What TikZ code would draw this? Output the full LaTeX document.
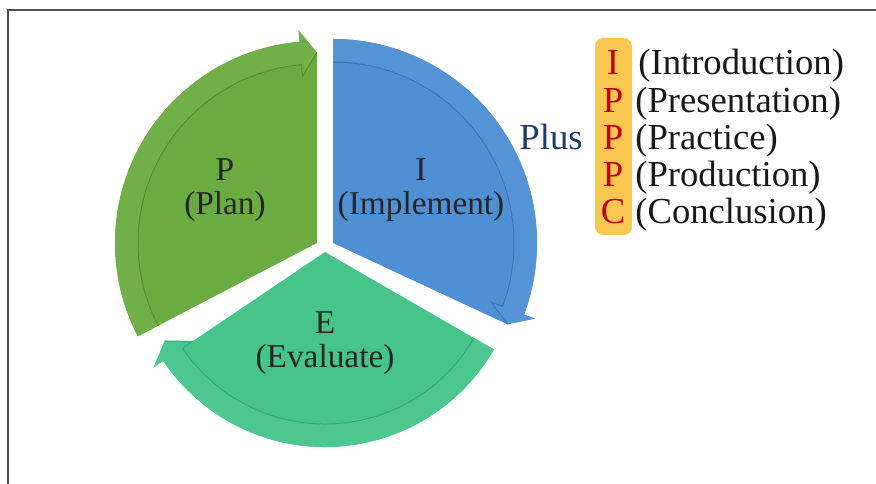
\documentclass[tikz,border=0pt]{standalone}
\usepackage{fontspec}
\setmainfont{Liberation Serif}
\usepackage{xcolor}
\usetikzlibrary{positioning}

\definecolor{plangreen}{HTML}{6AAB42}
\definecolor{planband}{HTML}{71B049}
\definecolor{planline}{HTML}{4F8F2C}
\definecolor{implblue}{HTML}{4F8FD3}
\definecolor{implband}{HTML}{5494D6}
\definecolor{implline}{HTML}{3B74B6}
\definecolor{evalteal}{HTML}{46C48A}
\definecolor{evalband}{HTML}{4CC78F}
\definecolor{evalline}{HTML}{34A873}
\definecolor{boxgold}{HTML}{F9C650}
\definecolor{letterred}{HTML}{C00000}
\definecolor{plusnavy}{HTML}{1F3A6B}

\begin{document}
\begin{tikzpicture}[x=0.6pt, y=0.6pt,
    seglabel/.style={align=center, text=black!85, inner sep=0pt,
        font=\fontsize{20}{20.5}\selectfont},
    letter/.style={anchor=base, inner sep=0pt, text=letterred,
        font=\fontsize{22}{22}\selectfont},
    item/.style={anchor=base west, inner sep=0pt, text=black!90,
        font=\fontsize{22}{22}\selectfont},
    innerline/.style={line width=0.6pt}]
    \useasboundingbox (0,0) rectangle (876,483);

    % Frame
    \draw[black!70, line width=0.9pt] (8,-5) -- (8,473) -- (881,473);

    % P segment
    \begin{scope}[shift={(317,240)}]
        \fill[plangreen] (0,0) -- (207.5:202) arc[start angle=207.5, end angle=95, radius=202] -- (90:190.5) -- cycle;
        \fill[planband] (207.5:202) arc[start angle=207.5, end angle=95, radius=202] -- (95:214) -- (90:190.5)
            -- (95:167) -- (95:179) arc[start angle=95, end angle=207.5, radius=179] -- cycle;
        \draw[planline, innerline] (207.5:179) arc[start angle=207.5, end angle=95, radius=179] -- (95:167) -- (90:190.5);
    \end{scope}

    % I segment
    \begin{scope}[shift={(333,240)}]
        \fill[implblue] (0,0) -- (90:204) arc[start angle=90, end angle=-20.5, radius=204] -- (-25:192.5) -- cycle;
        \fill[implband] (90:204) arc[start angle=90, end angle=-20.5, radius=204] -- (-20.5:216) -- (-25:192.5)
            -- (-20.5:169) -- (-20.5:181) arc[start angle=-20.5, end angle=90, radius=181] -- cycle;
        \draw[implline, innerline] (90:181) arc[start angle=90, end angle=-20.5, radius=181] -- (-20.5:169) -- (-25:192.5);
    \end{scope}

    % E segment
    \begin{scope}[shift={(325,231)}]
        \fill[evalteal] (0,0) -- (-30:195) arc[start angle=-30, end angle=-146, radius=195] -- (-146:160) -- cycle;
        \fill[evalband] (-30:195) arc[start angle=-30, end angle=-146, radius=195] -- (-146:207) -- (-151:183.5)
            -- (-146:160) -- (-146:172) arc[start angle=-146, end angle=-30, radius=172] -- cycle;
        \draw[evalline, innerline] (-30:172) arc[start angle=-30, end angle=-146, radius=172] -- (-146:160) -- (-151:183.5);
    \end{scope}

    % Segment labels
    \node[seglabel] (plan) at (225,293) {P\\(Plan)};
    \node[seglabel] (impl) at (421,293) {I\\(Implement)};
    \node[seglabel] (eval) at (325,140) {E\\(Evaluate)};

    % IPPPC list
    \fill[boxgold, rounded corners=5pt] (595,248) rectangle (632,445);
    \node[letter] (l1) at (613,408) {I};
    \node[letter] (l2) at (613,370.75) {P};
    \node[letter] (l3) at (613,333.5) {P};
    \node[letter] (l4) at (613,296.25) {P};
    \node[letter] (l5) at (613,259) {C};
    \node[item] (t1) at (638,408) {(Introduction)};
    \node[item] (t2) at (635,370.75) {(Presentation)};
    \node[item] (t3) at (635,333.5) {(Practice)};
    \node[item] (t4) at (635,296.25) {(Production)};
    \node[item] (t5) at (635,259) {(Conclusion)};
    \node[anchor=base east, inner sep=0pt, text=plusnavy,
        font=\fontsize{22}{22}\selectfont] (plus) at (583,333.5) {Plus};
\end{tikzpicture}
\end{document}
